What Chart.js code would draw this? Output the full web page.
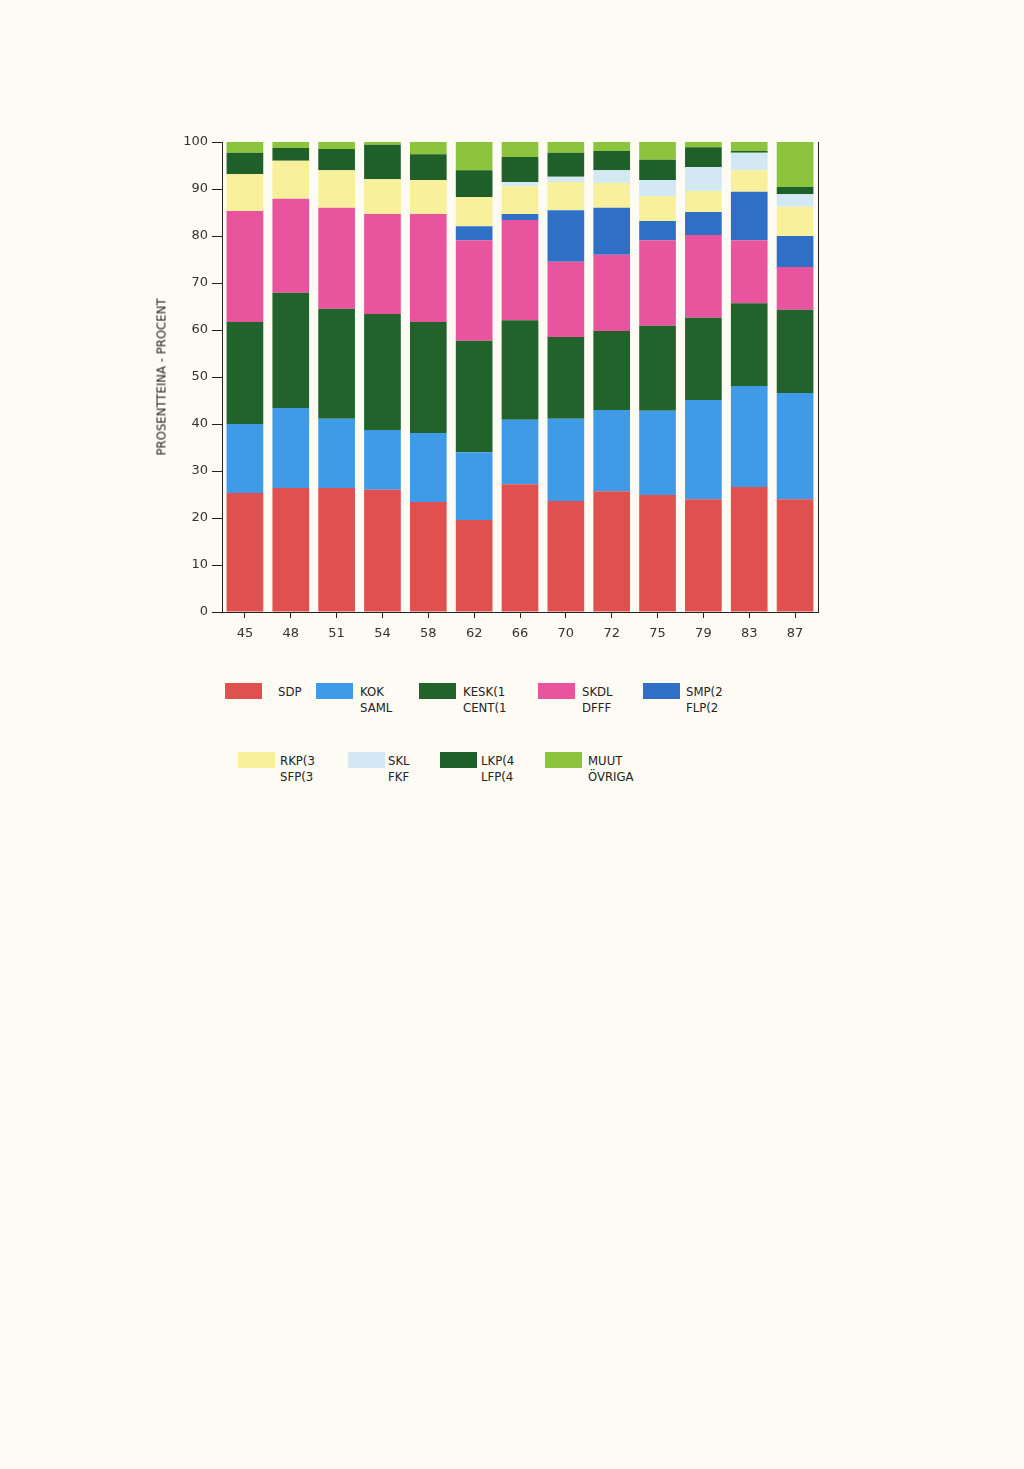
<!DOCTYPE html>
<html><head><meta charset="utf-8">
<script src="https://cdn.jsdelivr.net/npm/chart.js@4/dist/chart.umd.min.js"></script>
<style>
body{margin:0;background:#fdfbf3;width:1024px;height:1469px;position:relative;overflow:hidden;font-family:"DejaVu Sans Condensed",sans-serif}
#c{position:absolute;left:0;top:0;width:1024px;height:660px}
.yt{position:absolute;left:161px;top:377px;transform:translate(-50%,-50%) rotate(-90deg);font-size:13px;color:#222;white-space:nowrap}
.lg{position:absolute;font-size:13px;color:#222;line-height:16px}
.bx{position:absolute;width:37px;height:16px}
</style></head><body>
<canvas id="c" width="1024" height="660"></canvas>
<div class="yt">PROSENTTEINA - PROCENT</div>
<div id="legend"></div>
<script>
var years = ['45','48','51','54','58','62','66','70','72','75','79','83','87'];
var SDP  = [25.3,26.4,26.4,26.0,23.4,19.6,27.2,23.6,25.7,24.9,24.0,26.6,24.0];
var KOK  = [14.7,17.0,14.7,12.7,14.7,14.4,13.7,17.5,17.3,17.9,21.1,21.5,22.6];
var KESK = [21.7,24.5,23.4,24.7,23.6,23.7,21.2,17.4,16.8,18.1,17.5,17.6,17.7];
var SKDL = [23.6,20.0,21.5,21.3,23.0,21.4,21.3,16.0,16.2,18.2,17.6,13.4,9.1];
var SMP  = [0,0,0,0,0,3.0,1.3,11.0,10.0,4.1,4.9,10.3,6.6];
var RKP  = [7.9,8.1,8.0,7.4,7.2,6.2,5.9,6.0,5.3,5.3,4.5,4.6,6.2];
var SKL  = [0,0,0,0,0,0,0.9,1.1,2.7,3.4,5.1,3.7,2.7];
var LKP  = [4.5,2.7,4.5,7.3,5.5,5.7,5.3,5.1,4.1,4.3,4.2,0.4,1.5];
var MUUT = [2.3,1.3,1.5,0.6,2.6,6.0,3.2,2.3,1.9,3.8,1.1,1.9,9.6];

var series = [
  {label:['SDP'], data:SDP, color:'#e0504f'},
  {label:['KOK','SAML'], data:KOK, color:'#3f9be8'},
  {label:['KESK(1','CENT(1'], data:KESK, color:'#22632c'},
  {label:['SKDL','DFFF'], data:SKDL, color:'#e8549e'},
  {label:['SMP(2','FLP(2'], data:SMP, color:'#2f6fc6'},
  {label:['RKP(3','SFP(3'], data:RKP, color:'#f8f09a'},
  {label:['SKL','FKF'], data:SKL, color:'#d2e8f3'},
  {label:['LKP(4','LFP(4'], data:LKP, color:'#1f5f2a'},
  {label:['MUUT','ÖVRIGA'], data:MUUT, color:'#8dc43e'}
];

new Chart(document.getElementById('c'), {
  type: 'bar',
  data: {
    labels: years,
    datasets: series.map(function(s) {
      return {label: s.label.join(' '), data: s.data, backgroundColor: s.color, borderWidth: 0,
              barPercentage: 0.8, categoryPercentage: 1};
    })
  },
  options: {
    responsive: false, animation: false, devicePixelRatio: 1,
    layout: {padding: {top: 142, right: 206, left: 0, bottom: 0}},
    plugins: {legend: {display: false}, tooltip: {enabled: false}},
    scales: {
      x: {stacked: true, grid: {drawOnChartArea: false, offset: false, tickLength: 6, color: '#222'},
          border: {color: '#222'},
          ticks: {color: '#333', font: {size: 13, family: 'DejaVu Sans'}, padding: 8},
          afterFit: function(a) { a.height = 48; }},
      y: {stacked: true, min: 0, max: 100,
          grid: {drawOnChartArea: false, tickLength: 10, color: '#222'},
          border: {color: '#222'},
          ticks: {stepSize: 10, color: '#333', font: {size: 13, family: 'DejaVu Sans'}, padding: 4},
          afterFit: function(a) { a.width = 222; }},
      y2: {position: 'right', min: 0, max: 100, grid: {display: false}, ticks: {display: false},
           border: {color: '#222'}, afterFit: function(a) { a.width = 0; }}
    }
  }
});

var pos = [[225,683,278],[316,683,360],[419,683,463],[538,683,582],[643,683,686],
           [238,752,280],[348,752,388],[440,752,481],[545,752,588]];
var lg = document.getElementById('legend');
series.forEach(function(s, i) {
  var b = document.createElement('div');
  b.className = 'bx';
  b.style.left = pos[i][0] + 'px'; b.style.top = pos[i][1] + 'px'; b.style.background = s.color;
  lg.appendChild(b);
  var t = document.createElement('div');
  t.className = 'lg';
  t.style.left = pos[i][2] + 'px'; t.style.top = (pos[i][1] + 1) + 'px';
  t.innerHTML = s.label.join('<br>');
  lg.appendChild(t);
});
</script>
</body></html>
